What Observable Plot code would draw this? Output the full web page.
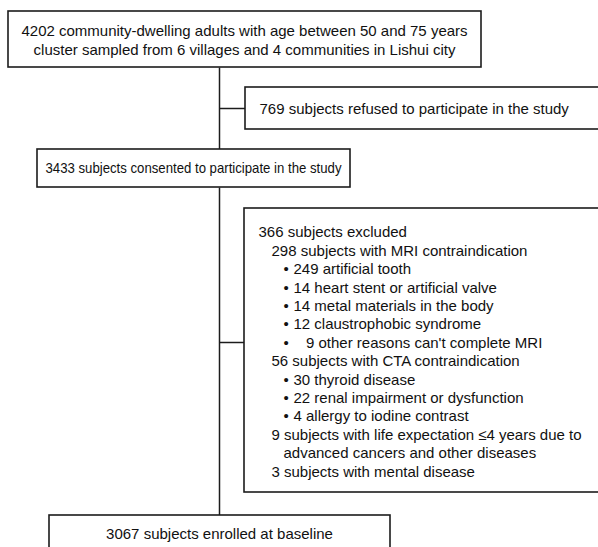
<!DOCTYPE html>
<html>
<head>
<meta charset="utf-8">
<script src="https://cdn.jsdelivr.net/npm/d3@7"></script>
<script src="https://cdn.jsdelivr.net/npm/@observablehq/plot@0.6"></script>
<style>
  html, body { margin: 0; padding: 0; background: #fff; overflow: hidden; }
  #chart svg { display: block; }
</style>
</head>
<body>
<div id="chart"></div>
<script>
// ---- Text content ----
const topBoxLines = [
  "4202 community-dwelling adults with age between 50 and 75 years",
  "cluster sampled from 6 villages and 4 communities in Lishui city"
];
const refusedLine = "769 subjects refused to participate in the study";
const consentedLine = "3433 subjects consented to participate in the study";
const enrolledLine = "3067 subjects enrolled at baseline";

// exclusion list: text, indent level (0 heading, 1 sub-heading, 2 bullet item, 3 continuation)
const exclusionText = [
  "366 subjects excluded",
  "298 subjects with MRI contraindication",
  "249 artificial tooth",
  "14 heart stent or artificial valve",
  "14 metal materials in the body",
  "12 claustrophobic syndrome",
  "   9 other reasons can't complete MRI",
  "56 subjects with CTA contraindication",
  "30 thyroid disease",
  "22 renal impairment or dysfunction",
  "4 allergy to iodine contrast",
  "9 subjects with life expectation \u22644 years due to",
  "advanced cancers and other diseases",
  "3 subjects with mental disease"
];
const exclusionLevel = [0, 1, 2, 2, 2, 2, 2, 1, 2, 2, 2, 1, 3, 1];

// ---- Layout (diagram geometry in pixel units) ----
const W = 598, H = 547;
const boxes = [
  {name: "top",       x1: 8,   x2: 481, y1: 11,  y2: 67},
  {name: "refused",   x1: 245, x2: 604, y1: 87,  y2: 129},
  {name: "consented", x1: 37,  x2: 350, y1: 149, y2: 187},
  {name: "excluded",  x1: 244, x2: 604, y1: 208, y2: 492},
  {name: "enrolled",  x1: 49,  x2: 390, y1: 515, y2: 560}
];
const spineX = 219;
const connectors = [
  {x1: spineX, y1: 67,  x2: spineX, y2: 149},
  {x1: spineX, y1: 187, x2: spineX, y2: 515},
  {x1: spineX, y1: 108, x2: 245,    y2: 108},
  {x1: spineX, y1: 342, x2: 244,    y2: 342}
];
const indentX = [258, 271, 293, 283];
const bulletX = 283;
const listTop = 232, lineStep = 18.4;

const centeredTexts = [
  {text: topBoxLines[0], x: 244, y: 31},
  {text: topBoxLines[1], x: 244, y: 50},
  {text: enrolledLine,   x: 219, y: 534}
];
const narrowTexts = [
  {text: consentedLine,  x: 193, y: 168}
];
const leftTexts = [
  {text: refusedLine, x: 259, y: 109},
  ...exclusionText.map((t, i) => ({text: t, x: indentX[exclusionLevel[i]], y: listTop + i * lineStep}))
];
const bullets = exclusionText
  .map((t, i) => ({level: exclusionLevel[i], x: bulletX, y: listTop + i * lineStep}))
  .filter(d => d.level === 2);

const ink = "#1c1c1c";
const plot = Plot.plot({
  width: W, height: H,
  margin: 0,
  x: {domain: [0, W], axis: null},
  y: {domain: [0, H], reverse: true, axis: null},
  style: {fontFamily: "'Liberation Sans', Arial, sans-serif", background: "#fff", overflow: "hidden"},
  marks: [
    Plot.link(connectors, {x1: "x1", y1: "y1", x2: "x2", y2: "y2", stroke: ink, strokeWidth: 1.5}),
    Plot.rect(boxes, {x1: "x1", x2: "x2", y1: "y1", y2: "y2", fill: "#fff", stroke: ink, strokeWidth: 1.6}),
    Plot.text(centeredTexts, {x: "x", y: "y", text: "text", textAnchor: "middle", fontSize: 15, fill: "#111"}),
    Plot.text(narrowTexts, {x: "x", y: "y", text: "text", textAnchor: "middle", fontSize: 15, fill: "#111", className: "narrow"}),
    Plot.text(leftTexts, {x: "x", y: "y", text: "text", textAnchor: "start", fontSize: 15, fill: "#111"}),
    Plot.text(bullets, {x: "x", y: "y", text: () => "\u2022", textAnchor: "start", fontSize: 15, fill: "#111"})
  ]
});
// the consented line is set in a condensed face in the original
d3.select(plot).selectAll(".narrow text")
  .attr("textLength", 296)
  .attr("lengthAdjust", "spacingAndGlyphs");
document.getElementById("chart").appendChild(plot);
</script>
</body>
</html>
